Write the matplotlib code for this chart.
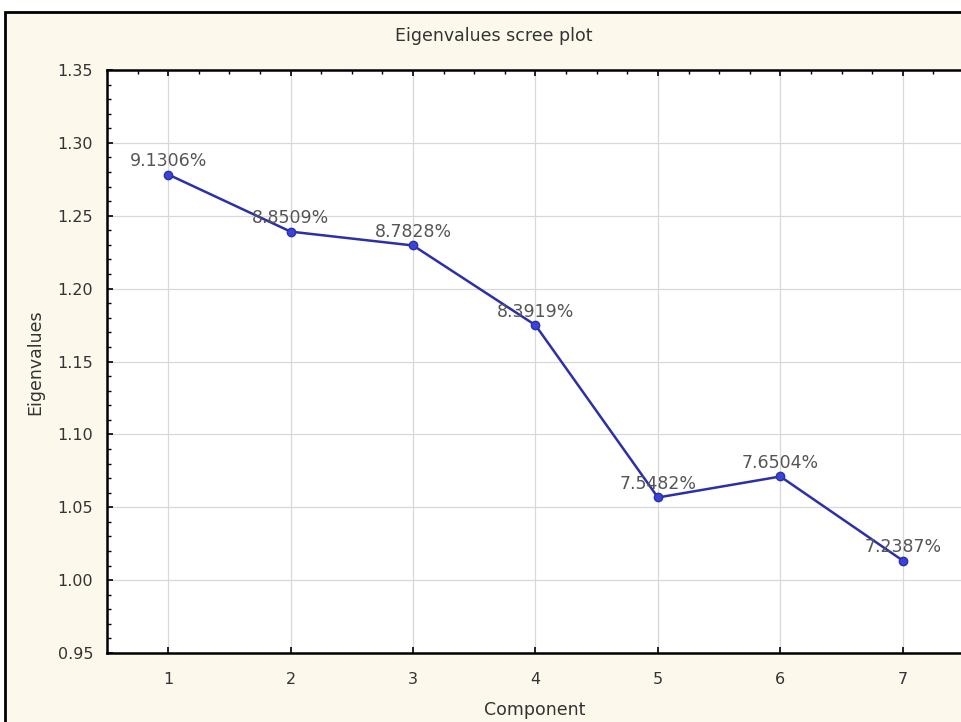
import matplotlib
matplotlib.use("Agg")
import matplotlib.pyplot as plt
from matplotlib.patches import Rectangle
from matplotlib.ticker import MultipleLocator

components = [1, 2, 3, 4, 5, 6, 7]
eigenvalues = [1.2783, 1.2391, 1.2296, 1.1749, 1.0567, 1.0711, 1.0134]
pct_labels = ["9.1306%", "8.8509%", "8.7828%", "8.3919%", "7.5482%", "7.6504%", "7.2387%"]
y_ticks = [0.95, 1.00, 1.05, 1.10, 1.15, 1.20, 1.25, 1.30, 1.35]

W, H = 962, 722
fig = plt.figure(figsize=(W / 100, H / 100), dpi=100)
fig.patch.set_facecolor("white")

cream = "#fcf9ec"
frame = Rectangle((5 / W, -0.2), 1.2, 1.2 - 12 / H, transform=fig.transFigure,
                  facecolor=cream, edgecolor="black", lw=2.0, zorder=-5)
fig.patches.append(frame)

left, right, top, bottom = 107, 964, 70, 653
ax = fig.add_axes([left / W, (H - bottom) / H, (right - left) / W, (bottom - top) / H])
ax.set_zorder(5)
ax.set_facecolor("white")

ax.plot(components, eigenvalues, color="#2b30a8", lw=1.8, marker="o", ms=6,
        markerfacecolor="#3a44d8", markeredgecolor="#2b30a8", zorder=3)

for x, y, t in zip(components, eigenvalues, pct_labels):
    ax.annotate(t, (x, y), xytext=(0, 3), textcoords="offset points",
                ha="center", va="bottom", fontsize=12.5, color="#555555", zorder=4)

ax.set_xlim(0.5, 7.5)
ax.set_ylim(0.95, 1.35)
ax.set_xticks(components)
ax.set_yticks(y_ticks)
ax.set_yticklabels([f"{v:.2f}" for v in y_ticks])
ax.xaxis.set_minor_locator(MultipleLocator(0.25))
ax.yaxis.set_minor_locator(MultipleLocator(0.01))
ax.grid(True, which="major", color="#d8d8d8", lw=0.9)
ax.set_axisbelow(True)

ax.tick_params(which="both", direction="in", top=True, right=False, colors="black",
               labelcolor="#333333", labelsize=11.5)
ax.tick_params(which="major", length=4, width=1.2)
ax.tick_params(which="minor", length=3, width=1.0)
ax.tick_params(axis="x", which="minor", bottom=False)
ax.tick_params(axis="x", pad=14)
ax.tick_params(axis="y", pad=10)

for s in ax.spines.values():
    s.set_linewidth(1.8)
    s.set_color("black")

fig.text(494 / W, 1 - 36 / H, "Eigenvalues scree plot", ha="center", va="center",
         fontsize=12.5, color="#333333", zorder=6)
fig.text(35 / W, 1 - 362 / H, "Eigenvalues", ha="center", va="center", rotation=90,
         fontsize=12.5, color="#333333", zorder=6)
fig.text(535 / W, 1 - 710 / H, "Component", ha="center", va="center",
         fontsize=12.5, color="#333333", zorder=6)

fig.savefig("out.png", dpi=100, facecolor=fig.get_facecolor())
